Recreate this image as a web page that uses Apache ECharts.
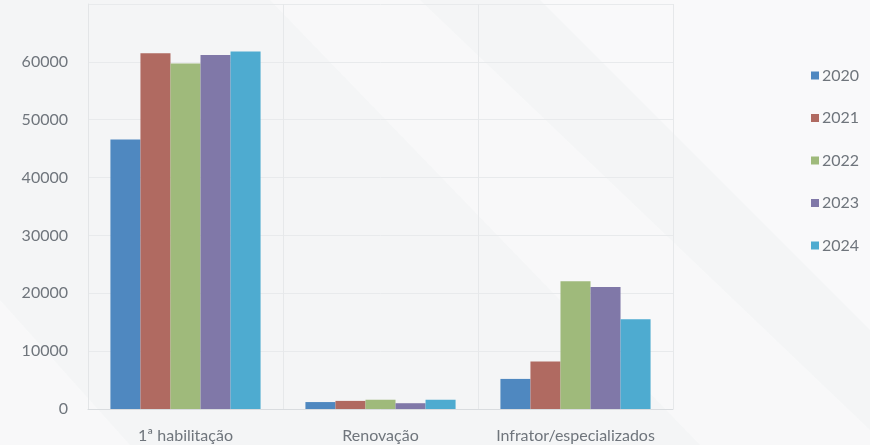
<!DOCTYPE html>
<html>
<head>
<meta charset="utf-8">
<script src="https://cdn.jsdelivr.net/npm/echarts@6/dist/echarts.min.js"></script>
<style>
  html, body { margin: 0; padding: 0; background: #f4f5f6; }
  #chart { width: 870px; height: 445px; }
</style>
</head>
<body>
<div id="chart"></div>
<script>
  // categories and values
  var categories = ['1ª habilitação', 'Renovação', 'Infrator/especializados']
  var years = ['2020', '2021', '2022', '2023', '2024']
  var v2020 = [46600, 1200, 5200]
  var v2021 = [61500, 1400, 8200]
  var v2022 = [59700, 1600, 22100]
  var v2023 = [61200, 1000, 21100]
  var v2024 = [61800, 1600, 15500]
  var yTicks = [0, 10000, 20000, 30000, 40000, 50000, 60000]

  var colors = ['#4f88c0', '#b06a61', '#9fba7b', '#8078a8', '#4eabd0']
  var values = [v2020, v2021, v2022, v2023, v2024]
  var font = 'Lato, "Open Sans", sans-serif'

  var chart = echarts.init(document.getElementById('chart'))
  chart.setOption({
    backgroundColor: '#f4f5f6',
    animation: false,
    graphic: [
      {
        type: 'polygon', silent: true, z: -10,
        shape: { points: [[270, 0], [420, 0], [870, 430], [870, 445], [700, 445]] },
        style: { fill: 'rgba(255,255,255,0.35)' }
      },
      {
        type: 'polygon', silent: true, z: -10,
        shape: { points: [[540, 0], [870, 0], [870, 330]] },
        style: { fill: 'rgba(255,255,255,0.45)' }
      },
      {
        type: 'polygon', silent: true, z: -10,
        shape: { points: [[0, 300], [0, 445], [130, 445]] },
        style: { fill: 'rgba(255,255,255,0.35)' }
      }
    ],
    legend: {
      orient: 'vertical',
      left: 806,
      top: 62,
      itemWidth: 8,
      itemHeight: 8,
      itemGap: 25.5,
      icon: 'rect',
      data: years,
      textStyle: { color: '#6f757c', fontSize: 16, lineHeight: 17, fontFamily: font, padding: [0, 0, 0, -2] }
    },
    grid: {
      left: 88,
      right: 197,
      top: 4,
      bottom: 36,
      containLabel: false
    },
    xAxis: {
      type: 'category',
      data: categories,
      axisLine: { show: true, lineStyle: { color: '#d9dcdf' } },
      axisTick: { show: false },
      splitLine: { show: true, lineStyle: { color: '#e6e8ea' } },
      axisLabel: { color: '#6f757c', fontSize: 16, fontFamily: font, margin: 19, interval: 0 }
    },
    yAxis: {
      type: 'value',
      min: 0,
      max: 70000,
      interval: 10000,
      axisLine: { show: true, lineStyle: { color: '#e3e5e7' } },
      axisTick: { show: false },
      splitLine: { lineStyle: { color: '#e8eaec' } },
      axisLabel: {
        color: '#6f757c',
        fontSize: 16,
        fontFamily: font,
        margin: 20,
        formatter: function (v) { return yTicks.indexOf(v) >= 0 ? String(v) : '' }
      }
    },
    series: years.map(function (y, i) {
      return {
        name: y,
        type: 'bar',
        data: values[i],
        barGap: '0%',
        barCategoryGap: '23%',
        itemStyle: { color: colors[i] }
      }
    })
  })
</script>
</body>
</html>
